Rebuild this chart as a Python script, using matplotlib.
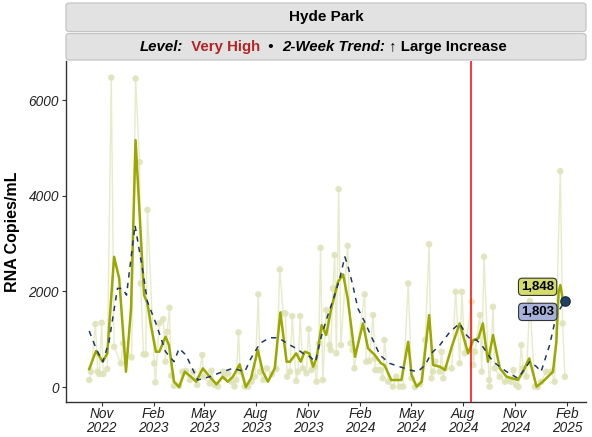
import numpy as np
import pandas as pd
import matplotlib
matplotlib.use("Agg")
import matplotlib.pyplot as plt
import matplotlib.dates as mdates
from matplotlib.patches import FancyBboxPatch

plt.rcParams['font.family'] = ['Liberation Sans', 'DejaVu Sans']

# raw samples (date, RNA copies/mL)
sample_dates = [
    "2022-10-10", "2022-10-13", "2022-10-21", "2022-10-25", "2022-10-28", "2022-11-01", "2022-11-04",
    "2022-11-11", "2022-11-18", "2022-11-23", "2022-12-05", "2022-12-09", "2022-12-24", "2022-12-31",
    "2023-01-07", "2023-01-09", "2023-01-14", "2023-01-18", "2023-01-21", "2023-02-02", "2023-02-04",
    "2023-02-11", "2023-02-18", "2023-02-22", "2023-02-25", "2023-03-01", "2023-03-04", "2023-03-09",
    "2023-03-18", "2023-03-24", "2023-03-30", "2023-04-06", "2023-04-12", "2023-04-19", "2023-04-28",
    "2023-04-30", "2023-05-11", "2023-05-14", "2023-05-20", "2023-05-26", "2023-06-04", "2023-06-06",
    "2023-06-13", "2023-06-19", "2023-06-24", "2023-06-27", "2023-07-01", "2023-07-04", "2023-07-12",
    "2023-07-18", "2023-07-24", "2023-07-30", "2023-08-05", "2023-08-08", "2023-08-14", "2023-08-20",
    "2023-08-29", "2023-09-06", "2023-09-12", "2023-09-18", "2023-09-22", "2023-09-25", "2023-09-30",
    "2023-10-04", "2023-10-11", "2023-10-14", "2023-10-18", "2023-10-23", "2023-10-29", "2023-11-02",
    "2023-11-07", "2023-11-13", "2023-11-16", "2023-11-20", "2023-11-23", "2023-11-27", "2023-12-03",
    "2023-12-09", "2023-12-11", "2023-12-15", "2023-12-18", "2023-12-21", "2023-12-25", "2023-12-29",
    "2024-01-10", "2024-01-15", "2024-01-19", "2024-01-22", "2024-02-09", "2024-02-12", "2024-02-17",
    "2024-02-24", "2024-02-27", "2024-02-28", "2024-03-04", "2024-03-08", "2024-03-12", "2024-03-15",
    "2024-03-22", "2024-03-30", "2024-04-05", "2024-04-11", "2024-04-17", "2024-04-26", "2024-05-02",
    "2024-05-08", "2024-05-17", "2024-05-26", "2024-06-02", "2024-06-06", "2024-06-09", "2024-06-13",
    "2024-06-21", "2024-06-24", "2024-06-27", "2024-06-30", "2024-07-12", "2024-07-19", "2024-07-26",
    "2024-07-30", "2024-08-04", "2024-08-16", "2024-08-19", "2024-08-22", "2024-08-31", "2024-09-03",
    "2024-09-07", "2024-09-16", "2024-09-17", "2024-09-23", "2024-09-26", "2024-10-05", "2024-10-14",
    "2024-10-19", "2024-10-25", "2024-10-29", "2024-11-03", "2024-11-07", "2024-11-12", "2024-11-15",
    "2024-11-21", "2024-11-27", "2024-12-06", "2024-12-11", "2024-12-17", "2024-12-26", "2025-01-04",
    "2025-01-10", "2025-01-20", "2025-01-24", "2025-01-28",
]
sample_values = [
    146, 320, 1316, 320, 272, 1343, 272,
    376, 6470, 842, 495, 913, 620, 6450,
    4700, 2166, 683, 683, 3704, 495, 98,
    1330, 1420, 529, 1155, 1657, 236, 27,
    20, 320, 334, 146, 320, 42, 668,
    215, 77, 341, 42, 10, 320, 215,
    286, 111, 10, 146, 1143, 320, 10,
    5, 111, 215, 1937, 320, 146, 390,
    265, 376, 2459, 1540, 1540, 215, 320,
    1483, 125, 320, 1483, 390, 286, 1212,
    355, 424, 111, 913, 2910, 146, 1608,
    877, 773, 2062, 2757, 704, 4136, 877,
    2952, 913, 773, 390, 1937, 529, 543,
    1504, 599, 355, 355, 355, 182, 982,
    111, 7, 215, 7, 7, 2166, 182,
    0, 56, 982, 2987, 182, 320, 529,
    320, 738, 182, 390, 390, 1991, 495,
    1991, 704, 1782, 460, 738, 1504, 320,
    2722, 146, 7, 1677, 390, 215, 111,
    146, 111, 355, 42, 0, 877, 390,
    215, 1800, 7, 0, 111, 320, 320,
    111, 4512, 1330, 215,
]

# short-term smoothed trend
short_dates = [
    "2022-10-10", "2022-10-22", "2022-11-03", "2022-11-11", "2022-11-23", "2022-12-02", "2022-12-14",
    "2022-12-23", "2022-12-31", "2023-01-15", "2023-01-21", "2023-01-27", "2023-02-05", "2023-02-11",
    "2023-02-22", "2023-02-28", "2023-03-09", "2023-03-18", "2023-03-28", "2023-04-10", "2023-04-17",
    "2023-04-29", "2023-05-11", "2023-05-23", "2023-06-03", "2023-06-12", "2023-06-21", "2023-07-03",
    "2023-07-14", "2023-07-23", "2023-08-04", "2023-08-13", "2023-08-22", "2023-09-03", "2023-09-13",
    "2023-09-24", "2023-09-30", "2023-10-11", "2023-10-19", "2023-10-26", "2023-11-03", "2023-11-10",
    "2023-11-16", "2023-11-25", "2023-12-03", "2023-12-12", "2023-12-24", "2024-01-02", "2024-01-10",
    "2024-01-23", "2024-02-06", "2024-02-15", "2024-02-27", "2024-03-09", "2024-03-15", "2024-03-27",
    "2024-04-05", "2024-04-14", "2024-04-26", "2024-05-02", "2024-05-11", "2024-05-20", "2024-06-02",
    "2024-06-09", "2024-06-21", "2024-06-30", "2024-07-12", "2024-07-26", "2024-08-10", "2024-08-19",
    "2024-08-28", "2024-09-05", "2024-09-14", "2024-09-23", "2024-10-05", "2024-10-17", "2024-11-06",
    "2024-11-15", "2024-11-26", "2024-12-09", "2024-12-20", "2025-01-07", "2025-01-13", "2025-01-17",
    "2025-01-20", "2025-01-24",
]
short_values = [
    376, 752, 529, 704, 2722, 2270, 320,
    1644, 5160, 1922, 1748, 1295, 738, 738,
    1051, 877, 111, 0, 320, 194, 111,
    390, 215, 56, 215, 111, 215, 474,
    0, 182, 773, 320, 111, 390, 1560,
    529, 529, 704, 529, 738, 704, 424,
    599, 1295, 1086, 1644, 2200, 2354, 1853,
    633, 1330, 808, 668, 495, 460, 146,
    146, 146, 946, 251, 7, 111, 1504,
    460, 424, 355, 842, 1330, 704, 982,
    1017, 1330, 529, 1086, 390, 215, 146,
    320, 599, 7, 111, 320, 946, 1991,
    2131, 1848,
]

# longer-term trend
long_dates = [
    "2022-10-10", "2022-10-22", "2022-11-03", "2022-11-14", "2022-11-29", "2022-12-08", "2022-12-15",
    "2022-12-30", "2023-01-12", "2023-01-21", "2023-02-05", "2023-02-22", "2023-03-09", "2023-03-18",
    "2023-03-30", "2023-04-13", "2023-04-20", "2023-05-11", "2023-06-03", "2023-06-21", "2023-07-12",
    "2023-07-23", "2023-08-08", "2023-08-25", "2023-09-09", "2023-09-30", "2023-10-11", "2023-10-23",
    "2023-11-04", "2023-11-14", "2023-11-25", "2023-12-06", "2023-12-18", "2023-12-27", "2024-01-05",
    "2024-01-10", "2024-01-19", "2024-01-28", "2024-02-09", "2024-02-21", "2024-03-07", "2024-03-24",
    "2024-04-11", "2024-04-29", "2024-05-13", "2024-05-26", "2024-06-06", "2024-06-21", "2024-07-09",
    "2024-07-26", "2024-08-07", "2024-08-16", "2024-08-25", "2024-09-05", "2024-09-23", "2024-10-17",
    "2024-11-06", "2024-11-27", "2024-12-09", "2024-12-17", "2025-01-01", "2025-01-13", "2025-01-28",
]
long_values = [
    1170, 808, 529, 946, 2062, 2062, 1922,
    3384, 2480, 1782, 1330, 738, 529, 808,
    668, 320, 146, 215, 320, 390, 320,
    599, 913, 1030, 1030, 877, 808, 704,
    633, 529, 1086, 1504, 1922, 2270, 2722,
    2549, 2131, 1644, 1364, 1051, 668, 495,
    424, 355, 320, 460, 704, 877, 1155,
    1330, 1086, 982, 982, 842, 529, 320,
    182, 529, 424, 320, 877, 1504, 1803,
]

marker_date = "2024-08-15"
title = "Hyde Park"

sample_dates = pd.to_datetime(sample_dates)
short_dates = pd.to_datetime(short_dates)
long_dates = pd.to_datetime(long_dates)

fig = plt.figure(figsize=(5.92, 4.37), dpi=100)
ax = fig.add_axes([0.1115, 0.0808, 0.878, 0.7796])

pale = '#dfe3b8'
olive = '#9aa800'
navy = '#1f3866'

ax.plot(sample_dates, sample_values, color='#e8ebc8', lw=1.0, zorder=1)
ax.scatter(sample_dates, sample_values, s=22, color=pale, alpha=0.9, edgecolors='none', zorder=2)
ax.plot(short_dates, short_values, color=olive, lw=1.8, solid_joinstyle='round', zorder=3)
ax.plot(long_dates, long_values, color=navy, lw=1.1, ls=(0, (3.5, 3.5)), dash_joinstyle='round', zorder=4)
ax.scatter([long_dates[-1]], [long_values[-1]], s=45, color='#23405f', edgecolors='#163050', zorder=6)
ax.axvline(pd.Timestamp(marker_date), color='red', lw=1.1, zorder=5)

ax.annotate(f"{short_values[-1]:,}", (short_dates[-1], short_values[-1]), xytext=(-18, 8.5),
            textcoords='offset points', ha='center', va='center', fontsize=9.5, fontweight='bold',
            bbox=dict(boxstyle='round,pad=0.2,rounding_size=0.3', fc='#d4dc6a', ec='#333333', lw=0.8),
            zorder=7)
ax.annotate(f"{long_values[-1]:,}", (long_dates[-1], long_values[-1]), xytext=(-19.5, -8),
            textcoords='offset points', ha='center', va='center', fontsize=9.5, fontweight='bold',
            bbox=dict(boxstyle='round,pad=0.2,rounding_size=0.3', fc='#a6b2da', ec='#333333', lw=0.8),
            zorder=7)

ax.set_xlim(pd.Timestamp("2022-08-30"), pd.Timestamp("2025-03-06"))
ax.set_ylim(-307, 6816)
ax.set_yticks([0, 2000, 4000, 6000])
ax.set_yticklabels(['0', '2000', '4000', '6000'])
ticks = pd.date_range("2022-11-01", "2025-02-01", freq="3MS")
ax.set_xticks(ticks)
ax.set_xticklabels([d.strftime("%b\n%Y") for d in ticks])
for lab in ax.get_xticklabels() + ax.get_yticklabels():
    lab.set_fontstyle('italic')
    lab.set_fontsize(9.8)
    lab.set_color('#222222')
for lab in ax.get_xticklabels():
    lab.set_linespacing(0.95)
ax.tick_params(axis='both', length=3, width=0.8, color='#333333', pad=2)
ax.tick_params(axis='x', pad=1)
ax.spines['top'].set_visible(False)
ax.spines['right'].set_visible(False)
for s in ['left', 'bottom']:
    ax.spines[s].set_color('#333333')
    ax.spines[s].set_linewidth(1.0)
ax.set_ylabel("RNA Copies/mL", fontsize=11.5, fontweight='bold', labelpad=6)

# facet strips
for y0, y1 in [(3, 31.5), (33.5, 60)]:
    fig.patches.append(FancyBboxPatch((66 / 592, 1 - y1 / 437), 520 / 592, (y1 - y0) / 437,
                                      boxstyle='round,pad=0,rounding_size=0.006',
                                      transform=fig.transFigure, fc='#e2e2e2', ec='#c4c4c4', lw=0.9))
fig.text(326 / 592, 1 - 17 / 437, title, ha='center', va='center', fontsize=11, fontweight='bold')

parts = [("Level:", 'italic', 'black'), ("  Very High", 'normal', '#b22424'), ("  •  ", 'normal', 'black'),
         ("2-Week Trend:", 'italic', 'black'), (" ↑ Large Increase", 'normal', 'black')]
r = fig.canvas.get_renderer()
texts = []
total = 0
for s, st, c in parts:
    t = fig.text(0, 1 - 47 / 437, s, ha='left', va='center', fontsize=10.8, fontweight='bold',
                 fontstyle=st, color=c, family=['Liberation Sans', 'DejaVu Sans'])
    w = t.get_window_extent(r).width
    texts.append((t, w))
    total += w
x = 323 - total / 2
for t, w in texts:
    t.set_x(x / 592)
    x += w

fig.savefig("out.png", dpi=100)
